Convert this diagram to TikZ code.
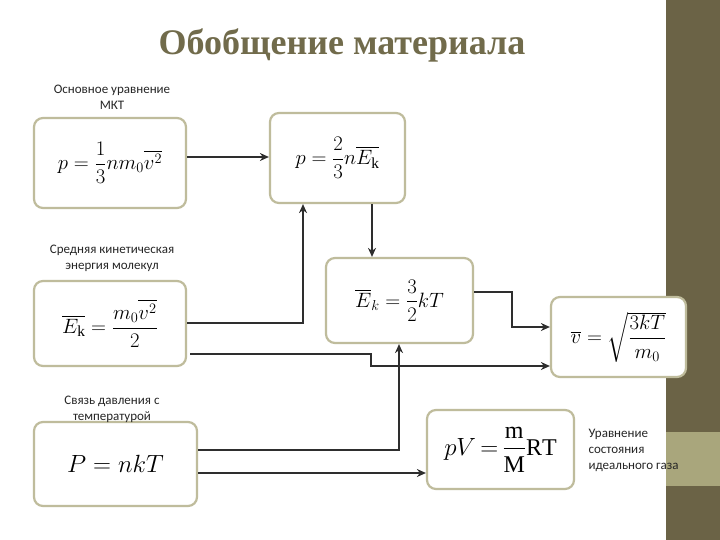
\documentclass[tikz,border=0pt]{standalone}
\usepackage{amsmath}
\usepackage{fontspec}
\setsansfont{Carlito}
\setmainfont{Liberation Serif}
\usetikzlibrary{arrows.meta,positioning}
\definecolor{bar}{HTML}{6B6346}
\definecolor{band}{HTML}{A9A67C}
\definecolor{boxline}{HTML}{BFBC9C}
\definecolor{titlec}{HTML}{716B4B}
\definecolor{conn}{HTML}{2E2E2E}
\tikzset{
 fbox/.style={draw=boxline,line width=2.2pt,rounded corners=9pt,fill=white,inner sep=0pt},
 lbl/.style={font=\sffamily\fontsize{13}{16}\selectfont,align=center,text=black!85},
 conx/.style={draw=conn,line width=2.6pt,-{Stealth[length=9pt,width=8pt]}},
 fml/.style={font=\fontsize{22}{26}\selectfont}
}
\begin{document}
\begin{tikzpicture}[x=1pt,y=-1pt]
\useasboundingbox (0,0) rectangle (720,540);
\fill[white] (0,0) rectangle (666,540);
\fill[bar] (666,0) rectangle (720,540);
\fill[band] (666,432) rectangle (720,486);
\node[font=\bfseries\fontsize{36}{40}\selectfont,text=titlec] (title) at (342,45) {Обобщение материала};
% boxes
\node[fbox,minimum width=152pt,minimum height=90pt] (b1) at (110,163) {};
\node[fml] at (b1) {$p=\dfrac{1}{3}nm_0\overline{v^2}$};
\node[fbox,minimum width=135pt,minimum height=90pt] (b2) at (337.5,158) {};
\node[fml] at (b2) {$p=\dfrac{2}{3}n\overline{E_{\mathrm k}}$};
\node[fbox,minimum width=152pt,minimum height=85pt] (b3) at (110,323.5) {};
\node[fml] at (b3) {$\overline{E_{\mathrm k}}=\dfrac{m_0\overline{v^2}}{2}$};
\node[fbox,minimum width=147pt,minimum height=85pt] (b4) at (399.5,300.5) {};
\node[fml] at (b4) {$\overline{E}_k=\dfrac{3}{2}kT$};
\node[fbox,minimum width=135pt,minimum height=80pt] (b5) at (618.5,337) {};
\node[fml] at (b5) {$\overline{v}=\sqrt{\dfrac{3kT}{m_0}}$};
\node[fbox,minimum width=163pt,minimum height=84pt] (b6) at (115.5,464) {};
\node[font=\fontsize{36}{40}\selectfont] at (b6) {$P=nkT$};
\node[fbox,minimum width=147pt,minimum height=79pt] (b7) at (500.5,449.5) {};
\node[font=\fontsize{24}{28}\selectfont] at (b7) {$pV\,\mathbf{=}\,\dfrac{\mathrm m}{\mathrm M}\mathrm{RT}$};
% labels
\node[lbl] (l1) at (112,97) {Основное уравнение\\МКТ};
\node[lbl] (l2) at (112,258) {Средняя кинетическая\\энергия молекул};
\node[lbl] (l3) at (112,409) {Связь давления с\\температурой};
\node[lbl,align=left,anchor=west] (l4) at (585,450) {Уравнение\\состояния\\идеального газа};
% connectors
\coordinate (c1) at (186,157);
\draw[conx] (b1.east |- c1) -- (b2.west |- c1);
\coordinate (c2) at (303,323);
\draw[conx] (b3.east |- c2) -- (c2) -- (c2 |- b2.south);
\coordinate (c3) at (372,0);
\draw[conx] (c3 |- b2.south) -- (c3 |- b4.north);
\coordinate (c4) at (512,292);
\coordinate (c5) at (512,327);
\draw[conx] (b4.east |- c4) -- (c4) -- (c5) -- (b5.west |- c5);
\coordinate (c6) at (190,354);
\coordinate (c7) at (371,354);
\coordinate (c8) at (371,366);
\draw[conx] (c6) -- (c7) -- (c8) -- (b5.west |- c8);
\coordinate (c9) at (399,450);
\draw[conx] (b6.east |- c9) -- (c9) -- (c9 |- b4.south);
\coordinate (c10) at (197,473);
\draw[conx] (b6.east |- c10) -- (b7.west |- c10);
\end{tikzpicture}
\end{document}
